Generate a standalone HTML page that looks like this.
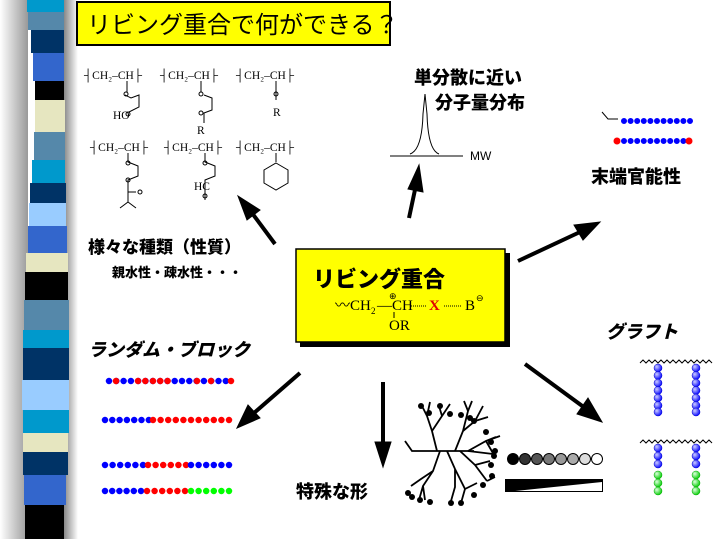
<!DOCTYPE html>
<html><head><meta charset="utf-8"><style>
html,body{margin:0;padding:0;background:#fff;}
body{width:719px;height:539px;position:relative;overflow:hidden;font-family:"Liberation Sans","Noto Sans CJK JP",sans-serif;}
.t{position:absolute;font-weight:900;color:#000;white-space:nowrap;font-family:"Noto Sans CJK JP","Liberation Sans",sans-serif;}
</style></head><body>
<svg width="719" height="539" style="position:absolute;left:0;top:0" xmlns="http://www.w3.org/2000/svg">
<defs>
<linearGradient id="lg" x1="0" x2="1"><stop offset="0" stop-color="#fff"/><stop offset="1" stop-color="#999"/></linearGradient>
<linearGradient id="rg" x1="0" x2="1"><stop offset="0" stop-color="#888"/><stop offset="1" stop-color="#fff"/></linearGradient>
<radialGradient id="bb" cx="0.35" cy="0.35" r="0.7"><stop offset="0" stop-color="#ccf"/><stop offset="1" stop-color="#00f"/></radialGradient>
<radialGradient id="gb" cx="0.35" cy="0.35" r="0.7"><stop offset="0" stop-color="#dfd"/><stop offset="1" stop-color="#0c0"/></radialGradient>
</defs>
<rect x="0" y="0" width="28" height="539" fill="url(#lg)"/>
<rect x="64" y="0" width="14" height="539" fill="url(#rg)"/>
<g>
<rect x="27" y="0" width="37" height="12" fill="#0099cc"/>
<rect x="28" y="12" width="36" height="18" fill="#5588aa"/>
<rect x="31" y="30" width="33" height="23" fill="#003366"/>
<rect x="33" y="53" width="31" height="28" fill="#3366cc"/>
<rect x="35" y="81" width="29" height="19" fill="#000"/>
<rect x="35" y="100" width="30" height="32" fill="#e6e6c0"/>
<rect x="34" y="132" width="31" height="28" fill="#5588aa"/>
<rect x="32" y="160" width="33" height="23" fill="#0099cc"/>
<rect x="30" y="183" width="36" height="20" fill="#003366"/>
<rect x="29" y="203" width="37" height="23" fill="#99ccff"/>
<rect x="28" y="226" width="39" height="27" fill="#3366cc"/>
<rect x="26" y="253" width="42" height="19" fill="#e6e6c0"/>
<rect x="25" y="272" width="43" height="28" fill="#000"/>
<rect x="24" y="300" width="45" height="30" fill="#5588aa"/>
<rect x="23" y="330" width="46" height="18" fill="#0099cc"/>
<rect x="23" y="348" width="46" height="32" fill="#003366"/>
<rect x="22" y="380" width="47" height="30" fill="#99ccff"/>
<rect x="23" y="410" width="46" height="23" fill="#0099cc"/>
<rect x="23" y="433" width="45" height="19" fill="#e6e6c0"/>
<rect x="23" y="452" width="45" height="23" fill="#003366"/>
<rect x="24" y="475" width="42" height="30" fill="#3366cc"/>
<rect x="25" y="505" width="39" height="34" fill="#000"/>
</g>
<rect x="77" y="2" width="313" height="43" fill="#ffff00" stroke="#000" stroke-width="2"/>
<rect x="300" y="253" width="210" height="94" fill="#000"/>
<rect x="296" y="249" width="209" height="93" fill="#ffff00" stroke="#000" stroke-width="1.5"/>
<g font-family="Liberation Serif,serif" font-size="15" fill="#000">
<text x="335" y="310">〰CH</text><text x="371" y="314" font-size="9">2</text><text x="377" y="310">—CH</text>
<text x="429" y="310" fill="#e00000" font-weight="bold">X</text><text x="465" y="310">B</text>
<text x="476" y="301" font-size="9">⊖</text><text x="389" y="299" font-size="9">⊕</text>
<text x="389" y="330">OR</text>
</g>
<line x1="394" y1="312" x2="394" y2="318" stroke="#000"/>
<line x1="411" y1="306" x2="426" y2="306" stroke="#000" stroke-dasharray="1 1"/>
<line x1="444" y1="306" x2="461" y2="306" stroke="#000" stroke-dasharray="1 1"/>
<g font-family="Liberation Serif,serif" font-size="11.5" fill="#000">
<text x="84" y="79">┤CH₂–CH├</text><text x="160" y="79">┤CH₂–CH├</text><text x="236" y="79">┤CH₂–CH├</text>
<text x="90" y="151">┤CH₂–CH├</text><text x="164" y="151">┤CH₂–CH├</text><text x="236" y="151">┤CH₂–CH├</text>
<text x="113" y="119">HO</text><text x="197" y="134">R</text><text x="273" y="116">R</text>
<text x="194" y="190">HC</text>
</g>
<g fill="none" stroke="#000" stroke-width="1">
<path d="M127 81 v11 M125 95 l6 3 l8 -3 v12 l-10 5"/><circle cx="126" cy="94" r="2"/><circle cx="128" cy="114" r="2"/>
<path d="M201 81 v11 M204 95 l8 3 v12 l-8 3 v10"/><circle cx="201" cy="94" r="2"/><circle cx="201" cy="113" r="2"/>
<path d="M276 81 v11 v8"/><circle cx="276" cy="94" r="2"/>
<path d="M128 153 v9 l10 4 v10 l-10 4 v12 h8 M128 192 v10 l-8 6 M128 202 l8 6"/><circle cx="128" cy="163" r="2"/><circle cx="128" cy="180" r="2"/><circle cx="140" cy="192" r="2"/>
<path d="M205 153 v9 l10 4 v10 l-10 4 v10 v10"/><circle cx="205" cy="163" r="2"/><circle cx="205" cy="196" r="2"/>
<path d="M276 153 v9"/><polygon points="276,163 288,170 288,183 276,190 264,183 264,170"/>
</g>
<path d="M390 156 H463 M410 154 q12 -4 13 -40 l2 -20 l2 20 q1 36 12 40" fill="none" stroke="#000"/>
<text x="470" y="160" font-size="12" fill="#000" font-family="Liberation Sans,sans-serif">MW</text>
<path d="M602 112 l6 7 h10" fill="none" stroke="#000"/>
<line x1="624" y1="121" x2="690" y2="121" stroke="#00f" stroke-width="6" stroke-linecap="round" stroke-dasharray="0 6.6"/>
<line x1="624" y1="141" x2="684" y2="141" stroke="#00f" stroke-width="6" stroke-linecap="round" stroke-dasharray="0 6.6"/>
<circle cx="617" cy="141" r="3.5" fill="#f00"/><circle cx="689" cy="141" r="3.5" fill="#f00"/>
<g stroke-width="6.5" stroke-linecap="round">
<line x1="109" y1="381" x2="232" y2="381" stroke="#00f" stroke-dasharray="0 7.3"/>
<g stroke="#f00" stroke-dasharray="0 7.3">
<line x1="116" y1="381" x2="117" y2="381"/><line x1="138" y1="381" x2="146" y2="381"/>
<line x1="153" y1="381" x2="168" y2="381"/><line x1="197" y1="381" x2="198" y2="381"/>
<line x1="211" y1="381" x2="212" y2="381"/><line x1="231" y1="381" x2="232" y2="381"/>
</g>
<line x1="105" y1="420" x2="150" y2="420" stroke="#00f" stroke-dasharray="0 7.3"/>
<line x1="153" y1="420" x2="230" y2="420" stroke="#f00" stroke-dasharray="0 7.6"/>
<line x1="105" y1="465" x2="143" y2="465" stroke="#00f" stroke-dasharray="0 7.6"/>
<line x1="148" y1="465" x2="187" y2="465" stroke="#f00" stroke-dasharray="0 7.6"/>
<line x1="191" y1="465" x2="230" y2="465" stroke="#00f" stroke-dasharray="0 7.6"/>
<line x1="105" y1="491" x2="141" y2="491" stroke="#00f" stroke-dasharray="0 7.2"/>
<line x1="147" y1="491" x2="186" y2="491" stroke="#f00" stroke-dasharray="0 7.6"/>
<line x1="191" y1="491" x2="230" y2="491" stroke="#0f0" stroke-dasharray="0 7.6"/>
</g>
<path d="M640 363 l3 -3 l3 3 l3 -3 l3 3 l3 -3 l3 3 l3 -3 l3 3 l3 -3 l3 3 l3 -3 l3 3 l3 -3 l3 3 l3 -3 l3 3 l3 -3 l3 3 l3 -3 l3 3 l3 -3 l3 3 l3 -3 l3 3" fill="none" stroke="#000"/>
<path d="M640 443 l3 -3 l3 3 l3 -3 l3 3 l3 -3 l3 3 l3 -3 l3 3 l3 -3 l3 3 l3 -3 l3 3 l3 -3 l3 3 l3 -3 l3 3 l3 -3 l3 3 l3 -3 l3 3 l3 -3 l3 3 l3 -3 l3 3" fill="none" stroke="#000"/>
<g stroke="#00c" stroke-width="0.5">
<g fill="url(#bb)">
<circle cx="658" cy="368" r="4"/><circle cx="658" cy="375.5" r="4"/><circle cx="658" cy="383" r="4"/><circle cx="658" cy="390.5" r="4"/><circle cx="658" cy="398" r="4"/><circle cx="658" cy="405.5" r="4"/><circle cx="658" cy="412" r="4"/>
<circle cx="696" cy="368" r="4"/><circle cx="696" cy="375.5" r="4"/><circle cx="696" cy="383" r="4"/><circle cx="696" cy="390.5" r="4"/><circle cx="696" cy="398" r="4"/><circle cx="696" cy="405.5" r="4"/><circle cx="696" cy="412" r="4"/>
<circle cx="658" cy="448" r="4"/><circle cx="658" cy="456" r="4"/><circle cx="658" cy="464" r="4"/>
<circle cx="696" cy="448" r="4"/><circle cx="696" cy="456" r="4"/><circle cx="696" cy="464" r="4"/>
</g>
<g fill="url(#gb)" stroke="#0a0">
<circle cx="658" cy="475" r="4"/><circle cx="658" cy="483" r="4"/><circle cx="658" cy="491" r="4"/>
<circle cx="696" cy="475" r="4"/><circle cx="696" cy="483" r="4"/><circle cx="696" cy="491" r="4"/>
</g></g>
<g stroke="#000">
<circle cx="513" cy="459" r="5.5" fill="#000"/><circle cx="525" cy="459" r="5.5" fill="#333"/><circle cx="537" cy="459" r="5.5" fill="#555"/><circle cx="549" cy="459" r="5.5" fill="#777"/>
<circle cx="561" cy="459" r="5.5" fill="#999"/><circle cx="573" cy="459" r="5.5" fill="#aaa"/><circle cx="585" cy="459" r="5.5" fill="#ddd"/><circle cx="597" cy="459" r="5.5" fill="#fff"/>
<rect x="505.5" y="479.5" width="97" height="12" fill="#fff"/>
</g>
<polygon points="505,480 602,480 602,482 505,492" fill="#000"/>
<g stroke="#000" stroke-width="1.8" fill="none">
<path d="M405 441 l7 10 h62"/>
<path d="M437 451 l-5 -20 l-5 -15 l-5 -10 M432 431 l10 -15 l-3 -10 M442 416 l8 -12 M427 416 l3 -14"/>
<path d="M455 451 l8 -20 l5 -20 l4 -10 M463 431 l12 -10 l8 -15 M475 421 l13 -4 M468 411 l-4 -10 M468 451 l18 -10 l14 -5 M486 441 l10 -4 M486 441 l8 14 M468 451 l25 3"/>
<path d="M440 451 l-7 20 l-10 15 l-4 14 M433 471 l-12 8 l-10 7 M423 486 l2 14"/>
<path d="M447 451 l8 18 l10 20 l-4 14 M455 469 l0 18 l-4 14 M465 489 l12 -6"/>
<path d="M460 451 l15 14 l12 16 M475 465 l15 -4 M487 481 l8 -4"/>
</g>
<g fill="#000">
<circle cx="421" cy="406" r="3"/><circle cx="429" cy="413" r="3"/><circle cx="440" cy="406" r="3"/><circle cx="450" cy="414" r="3"/>
<circle cx="461" cy="415" r="3"/><circle cx="470" cy="418" r="3"/><circle cx="474" cy="421" r="3"/><circle cx="486" cy="432" r="3"/>
<circle cx="491" cy="442" r="3"/><circle cx="495" cy="451" r="3"/><circle cx="494" cy="456" r="3"/><circle cx="491" cy="465" r="3"/>
<circle cx="492" cy="476" r="3"/><circle cx="483" cy="485" r="3"/><circle cx="474" cy="495" r="3"/><circle cx="461" cy="503" r="3"/>
<circle cx="451" cy="503" r="3"/><circle cx="430" cy="502" r="3"/><circle cx="420" cy="500" r="3"/><circle cx="412" cy="497" r="3"/><circle cx="408" cy="493" r="3"/>
</g>
<g fill="#000" stroke="#000">
<line x1="409" y1="218" x2="416" y2="185" stroke-width="4"/><polygon points="419,165 423,192 408,189"/>
<line x1="275" y1="244" x2="252" y2="213" stroke-width="4"/><polygon points="238,196 260,210 247,220"/>
<line x1="518" y1="261" x2="580" y2="232" stroke-width="4"/><polygon points="600,222 583,240 574,225"/>
<line x1="300" y1="373" x2="254" y2="413" stroke-width="4"/><polygon points="237,428 248,405 260,418"/>
<line x1="383" y1="382" x2="383" y2="445" stroke-width="4"/><polygon points="383,467 375,442 391,442"/>
<line x1="525" y1="364" x2="585" y2="408" stroke-width="4"/><polygon points="602,422 577,414 588,398"/>
</g>
</svg>
<div class="t" style="left:87px;top:5px;font-size:24px;font-weight:normal;">リビング重合で何ができる？</div>
<div class="t" style="left:313px;top:262px;font-size:22px;">リビング重合</div>
<div class="t" style="left:414px;top:64px;font-size:18px;">単分散に近い</div>
<div class="t" style="left:435px;top:89px;font-size:18px;">分子量分布</div>
<div class="t" style="left:591px;top:163px;font-size:18px;">末端官能性</div>
<div class="t" style="left:88px;top:233px;font-size:17px;">様々な種類（性質）</div>
<div class="t" style="left:112px;top:262px;font-size:13px;">親水性・疎水性・・・</div>
<div class="t" style="left:88px;top:336px;font-size:18px;font-style:italic;">ランダム・ブロック</div>
<div class="t" style="left:296px;top:478px;font-size:18px;">特殊な形</div>
<div class="t" style="left:606px;top:318px;font-size:18px;font-style:italic;">グラフト</div>
</body></html>
